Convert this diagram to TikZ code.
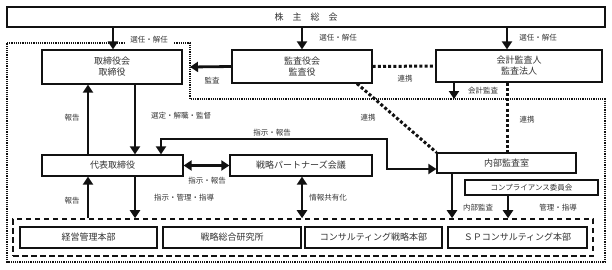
\documentclass[tikz,border=0pt]{standalone}
\usepackage{fontspec}
\setmainfont{Noto Sans CJK JP}
\usepackage{xcolor}
\usepackage{tikz}
\usetikzlibrary{positioning,arrows.meta}
\definecolor{ink}{HTML}{111111}
\definecolor{soft}{HTML}{333333}
\tikzset{
  box/.style     = {rectangle, draw=ink, fill=white, line width=1.2pt, inner sep=0pt,
                    align=center, font=\fontsize{9}{11}\selectfont, text=soft},
  flow/.style    = {-{Triangle[length=8pt,width=10pt]}, line width=2.8pt, draw=ink},
  both/.style    = {{Triangle[length=8pt,width=10pt]}-{Triangle[length=8pt,width=10pt]},
                    line width=2.8pt, draw=ink},
  link/.style    = {line width=3pt, draw=ink, dash pattern=on 3pt off 2.2pt},
  zone/.style    = {line width=1.5pt, draw=ink, dash pattern=on 1.2pt off 1pt},
  group/.style   = {rectangle, draw=ink, line width=1.6pt, dash pattern=on 5.5pt off 3.5pt,
                    inner sep=0pt},
  note/.style    = {font=\fontsize{7.5}{8.5}\selectfont, text=soft, inner sep=1pt},
}
\begin{document}
\begin{tikzpicture}[x=1pt, y=-1pt]
  \useasboundingbox (0,0) rectangle (612,269);
  % areas
  \draw[zone] (7,43) -- (190,43) -- (190,99) -- (605,99) -- (605,262) -- (7,262) -- cycle;
  \coordinate (rim) at (454,99);
  \coordinate (side) at (190,67);
  \node[group, minimum width=580pt, minimum height=37pt] (bumon) at (303,237.5) {};

  % boxes
  \node[box, minimum width=598pt, minimum height=20pt] (soukai) at (306,17) {株　主　総　会};
  \node[box, minimum width=140pt, minimum height=34pt] (tori) at (112,67) {取締役会\\取締役};
  \node[box, minimum width=140pt, minimum height=33pt] (kansa) at (302,66.5) {監査役会\\監査役};
  \node[box, minimum width=166pt, minimum height=32pt] (kaikei) at (519,66) {会計監査人\\監査法人};
  \node[box, minimum width=141pt, minimum height=21pt] (daihyo) at (112.5,165.5) {代表取締役};
  \node[box, minimum width=142pt, minimum height=21pt] (senryaku) at (301,165.5) {戦略パートナーズ会議};
  \node[box, minimum width=139pt, minimum height=20pt] (naibu) at (506.5,163) {内部監査室};
  \node[box, minimum width=133pt, minimum height=15pt, font=\fontsize{7.5}{9}\selectfont] (comp) at (531.5,187.5) {コンプライアンス委員会};
  \node[box, minimum width=137pt, minimum height=21pt] (keiei) at (88.5,237.5) {経営管理本部};
  \node[box, minimum width=138pt, minimum height=21pt] (souken) at (232,237.5) {戦略総合研究所};
  \node[box, minimum width=137pt, minimum height=21pt] (consul) at (373.5,237.5) {コンサルティング戦略本部};
  \node[box, minimum width=139pt, minimum height=21pt] (sp) at (517.5,237.5) {ＳＰコンサルティング本部};

  % from the meeting
  \draw[flow] (soukai.south -| 113,0) -- (tori.north -| 113,0);
  \draw[flow] (soukai.south -| 302,0) -- (kansa.north -| 302,0);
  \draw[flow] (soukai.south -| 507,0) -- (kaikei.north -| 507,0);
  \node[note, fill=white, inner xsep=5pt] at (149,40) {選任・解任};
  \node[note] at (338,38) {選任・解任};
  \node[note] at (538,38) {選任・解任};

  % audit
  \draw[flow] (kansa.west) -- (side);
  \node[note] at (212,81) {監査};
  \draw[link] (kansa.east) -- (kaikei.west);
  \node[note] at (405,79) {連携};
  \draw[flow] (kaikei.south -| rim) -- (rim);
  \node[note] at (483,91) {会計監査};
  \draw[link] (kaikei.south -| 507,0) -- (naibu.north -| 507,0);
  \node[note] at (527,120) {連携};
  \draw[link] (kansa.south -| 357,0) -- (naibu.north west);
  \node[note] at (368,118) {連携};

  % board and president
  \draw[flow] (daihyo.north -| 88,0) -- (tori.south -| 88,0);
  \node[note] at (72,118) {報告};
  \draw[flow] (tori.south -| 135,0) -- (daihyo.north -| 135,0);
  \node[note] at (181,116) {選定・解職・監督};
  \draw[both] (daihyo) -- (senryaku);
  \node[note] at (207,181) {指示・報告};
  \draw[both] (daihyo.north -| 161,0) |- (387,139) |- ([yshift=-6pt]naibu.west);
  \node[note] at (272,133) {指示・報告};

  % to the divisions
  \draw[flow] (bumon.north -| 88,0) -- (daihyo.south -| 88,0);
  \node[note] at (72,201) {報告};
  \draw[flow] (daihyo.south -| 135,0) -- (bumon.north -| 135,0);
  \node[note] at (184,198) {指示・管理・指導};
  \draw[both] (senryaku.south -| 302,0) -- (bumon.north -| 302,0);
  \node[note] at (328,198) {情報共有化};
  \draw[flow] (naibu.south -| 452,0) -- (bumon.north -| 452,0);
  \node[note] at (478,208) {内部監査};
  \draw[flow] (comp.south -| 508,0) -- (bumon.north -| 508,0);
  \node[note] at (558,208) {管理・指導};
\end{tikzpicture}
\end{document}
